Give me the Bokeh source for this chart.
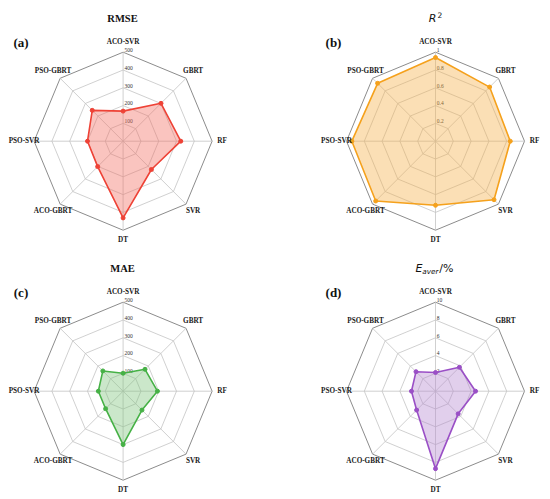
import numpy as np
from bokeh.plotting import figure
from bokeh.models import Range1d
from bokeh.core.properties import value
from bokeh.embed import file_html
from bokeh.resources import INLINE

categories = ["ACO-SVR", "GBRT", "RF", "SVR", "DT", "ACO-GBRT", "PSO-SVR", "PSO-GBRT"]
rmse = [169, 301, 324, 225, 431, 202, 200, 245]
r2 = [0.94, 0.86, 0.84, 0.93, 0.72, 0.95, 0.94, 0.92]
mae = [101, 174, 193, 150, 300, 139, 139, 161]
eaver = [2.1, 3.8, 4.5, 3.6, 8.7, 3.0, 2.7, 3.1]

ticks_err = [100, 200, 300, 400, 500]
ticks_err_labels = ["100", "200", "300", "400", "500"]
ticks_r2 = [0.2, 0.4, 0.6, 0.8, 1.0]
ticks_r2_labels = ["0.2", "0.4", "0.6", "0.8", "1"]
ticks_e = [2, 4, 6, 8, 10]
ticks_e_labels = ["2", "4", "6", "8", "10"]

panel_tags = ["(a)", "(b)", "(c)", "(d)"]

SERIF = value("Liberation Serif")
SANS = value("DejaVu Sans")

W, H = 550, 499
p = figure(width=W, height=H, output_backend="svg", toolbar_location=None,
           x_range=Range1d(0, W), y_range=Range1d(H, 0),
           min_border=0, outline_line_color=None)
p.axis.visible = False
p.grid.visible = False

R = 89.0
LR = 99.0
n = len(categories)
theta = np.arange(n) * 2 * np.pi / n

panels = [
    dict(c=(122.6, 140.7), vals=rmse, ticks=ticks_err, tl=ticks_err_labels,
         line="#ee4236", fill="#f26b60", tag=(20.5, 42)),
    dict(c=(435.0, 140.7), vals=r2, ticks=ticks_r2, tl=ticks_r2_labels,
         line="#f5a11c", fill="#f6ae45", tag=(333.0, 42)),
    dict(c=(122.6, 390.7), vals=mae, ticks=ticks_err, tl=ticks_err_labels,
         line="#46b146", fill="#7cc47a", tag=(20.5, 292)),
    dict(c=(435.0, 390.7), vals=eaver, ticks=ticks_e, tl=ticks_e_labels,
         line="#9a4fc6", fill="#b388cf", tag=(333.0, 292)),
]

for i, pn in enumerate(panels):
    cx, cy = pn["c"]
    tmax = pn["ticks"][-1]
    sx = np.sin(theta)
    sy = -np.cos(theta)
    # rings
    for k, t in enumerate(pn["ticks"]):
        rr = R * t / tmax
        xs = list(cx + rr * sx) + [cx + rr * sx[0]]
        ys = list(cy + rr * sy) + [cy + rr * sy[0]]
        last = k == len(pn["ticks"]) - 1
        p.line(xs, ys, line_color="#8c8c8c" if last else "#c4c4c4",
               line_width=1.0 if last else 0.8)
    # spokes
    p.multi_line([[cx, cx + R * a] for a in sx], [[cy, cy + R * b] for b in sy],
                 line_color="#c4c4c4", line_width=0.8)
    # tick labels
    p.text([cx + 1.3] * len(pn["ticks"]),
           [cy - R * t / tmax - 0.3 for t in pn["ticks"]],
           text=pn["tl"], text_font=SERIF, text_font_size="5.5px",
           text_color="#333333", text_align="left", text_baseline="bottom")
    # data
    v = np.array(pn["vals"], dtype=float) / tmax * R
    px = cx + v * sx
    py = cy + v * sy
    p.patch(list(px), list(py), fill_color=pn["fill"], fill_alpha=0.4,
            line_color=pn["line"], line_width=1.6)
    p.scatter(list(px), list(py), size=4, marker="circle",
              fill_color=pn["line"], line_color=pn["line"])
    # category labels
    p.text(list(cx + LR * sx), list(cy + LR * sy), text=categories,
           text_font=SERIF, text_font_style="bold", text_font_size="7.2px",
           text_color="#1a1a1a", text_align="center", text_baseline="middle")
    # panel tag
    p.text([pn["tag"][0]], [pn["tag"][1]], text=[panel_tags[i]], text_font=SERIF,
           text_font_style="bold", text_font_size="13px", text_color="#111111",
           text_align="center", text_baseline="middle")

# titles
p.text([122.0], [17.5], text=["RMSE"], text_font=SERIF, text_font_style="bold",
       text_font_size="10.5px", text_color="#111111", text_align="center",
       text_baseline="middle")
p.text([122.0], [267.5], text=["MAE"], text_font=SERIF, text_font_style="bold",
       text_font_size="10.5px", text_color="#111111", text_align="center",
       text_baseline="middle")
p.text([436.0], [17.8], text=["R"], text_font=SANS, text_font_style="italic",
       text_font_size="11px", text_color="#111111", text_align="right",
       text_baseline="middle")
p.text([437.0], [14.3], text=["2"], text_font=SANS,
       text_font_size="7.5px", text_color="#111111", text_align="left",
       text_baseline="middle")
p.text([415.0], [268.3], text=["E"], text_font=SANS, text_font_style="italic",
       text_font_size="11px", text_color="#111111", text_align="left",
       text_baseline="middle")
p.text([421.8], [271.0], text=["aver"], text_font=SANS, text_font_style="italic",
       text_font_size="7.3px", text_color="#111111", text_align="left",
       text_baseline="middle")
p.text([438.8], [268.3], text=["/%"], text_font=SANS,
       text_font_size="11px", text_color="#111111", text_align="left",
       text_baseline="middle")

open("out.html", "w").write(file_html(p, INLINE))
